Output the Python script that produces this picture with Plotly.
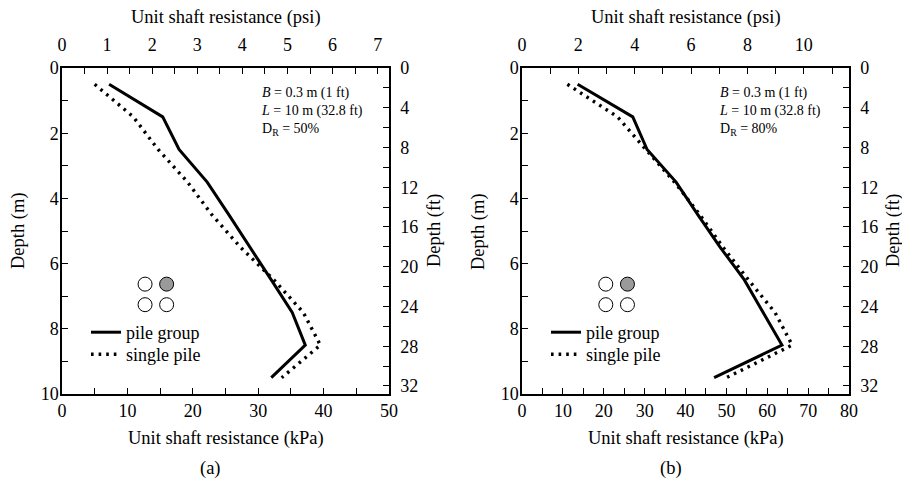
import plotly.graph_objects as go

# ---------------- data ----------------
depth_m = [0.5, 1.5, 2.5, 3.5, 4.5, 5.5, 6.5, 7.5, 8.5, 9.5]
a_group = [7.2, 15.4, 17.9, 22.2, 25.5, 28.8, 32.0, 35.2, 37.2, 32.0]
a_single = [5.0, 10.9, 14.7, 19.2, 22.9, 27.3, 32.4, 36.9, 39.5, 33.6]
b_group = [13.6, 27.1, 30.6, 37.7, 43.0, 48.5, 54.4, 59.0, 63.6, 47.0]
b_single = [11.1, 23.4, 30.3, 37.3, 43.5, 49.2, 55.4, 61.9, 66.1, 50.0]

series_names = ["pile group", "single pile"]
panel_labels = ["(a)", "(b)"]
panel_notes = [
    ["<i>B</i> = 0.3 m (1 ft)", "<i>L</i> = 10 m (32.8 ft)", "D<sub>R</sub> = 50%"],
    ["<i>B</i> = 0.3 m (1 ft)", "<i>L</i> = 10 m (32.8 ft)", "D<sub>R</sub> = 80%"],
]
# pile-group icon (2x2), in data units of each panel
icon_a_x = [12.7, 16.0, 12.7, 16.0]
icon_b_x = [20.5, 25.8, 20.5, 25.8]
icon_y = [6.63, 6.63, 7.26, 7.26]
icon_fill = ["white", "#9a9a9a", "white", "white"]

KPA_PER_PSI = 6.894757
M_PER_FT = 0.3048
xmax = [50, 80]
ymax_m = 10

FONT = "Liberation Serif, Times New Roman, serif"
W, H = 902, 479
TICK_SIZE = 18
TITLE_SIZE = 18.5
NOTE_SIZE = 14

# plot-area pixel geometry
px_left = [(62, 389), (522, 849)]
py_top, py_bot = 68, 394

def fx(p):
    return p / W

def fy(p):
    return 1 - p / H

fig = go.Figure()

def add_panel(xs_group, xs_single, icon_x, xa, ya, legs):
    fig.add_trace(go.Scatter(
        x=xs_group, y=depth_m, mode="lines", name=series_names[0],
        line=dict(color="black", width=3), xaxis=xa, yaxis=ya, legend=legs[0]))
    fig.add_trace(go.Scatter(
        x=xs_single, y=depth_m, mode="lines", name=series_names[1],
        line=dict(color="black", width=3.4, dash="2.6px,5px"), xaxis=xa, yaxis=ya,
        legend=legs[1]))
    fig.add_trace(go.Scatter(
        x=icon_x, y=icon_y, mode="markers", showlegend=False, hoverinfo="skip",
        marker=dict(size=14, color=icon_fill, line=dict(color="black", width=1)),
        xaxis=xa, yaxis=ya))

add_panel(a_group, a_single, icon_a_x, "x", "y", ("legend", "legend3"))
add_panel(b_group, b_single, icon_b_x, "x2", "y2", ("legend2", "legend4"))

minor_common = dict(ticks="inside", ticklen=6, tickwidth=1.2, tickcolor="black")
axis_common = dict(
    showline=True, linecolor="black", linewidth=1.5, ticks="inside", ticklen=6,
    tickwidth=1.2, tickcolor="black", showgrid=False, zeroline=False,
    tickfont=dict(family=FONT, size=TICK_SIZE, color="black"), automargin=False,
)

layout = dict(
    width=W, height=H, margin=dict(l=0, r=0, t=0, b=0),
    paper_bgcolor="white", plot_bgcolor="white",
    font=dict(family=FONT, size=TICK_SIZE, color="black"),
)

for i in range(2):
    sfx = "" if i == 0 else "2"
    xd = [fx(px_left[i][0]), fx(px_left[i][1])]
    yd = [fy(py_bot), fy(py_top)]
    xm = xmax[i]
    layout["xaxis" + sfx] = dict(axis_common, domain=xd, range=[0, xm],
                                 anchor="y" + sfx, dtick=10,
                                 minor=dict(minor_common, dtick=5))
    layout["yaxis" + sfx] = dict(axis_common, domain=yd, range=[ymax_m, 0],
                                 anchor="x" + sfx, dtick=2, ticklabelstandoff=-2,
                                 minor=dict(minor_common, dtick=1))
    psi_max = xm / KPA_PER_PSI
    top_dtick, top_minor = (1, 0.5) if i == 0 else (2, 1)
    layout["xaxis" + str(3 + i)] = dict(
        axis_common, overlaying="x" + sfx, side="top", anchor="y" + sfx,
        range=[0, psi_max], dtick=top_dtick, ticklabelstandoff=8,
        minor=dict(minor_common, dtick=top_minor))
    ft_max = ymax_m / M_PER_FT
    layout["yaxis" + str(3 + i)] = dict(
        axis_common, overlaying="y" + sfx, side="right", anchor="x" + sfx,
        range=[ft_max, 0], dtick=4, ticklabelstandoff=6,
        minor=dict(minor_common, dtick=2))

# legends: one entry each so rows can be placed exactly
for key, lx, ty in [("legend", 86, 314), ("legend3", 86, 336),
                    ("legend2", 546, 314), ("legend4", 546, 336)]:
    layout[key] = dict(x=fx(lx), y=fy(ty), xanchor="left", yanchor="top",
                       bgcolor="rgba(0,0,0,0)",
                       font=dict(family=FONT, size=TICK_SIZE),
                       itemwidth=30, tracegroupgap=0)

fig.update_layout(**layout)

# empty traces so the overlay axes render
for xa, ya in [("x3", "y"), ("x", "y3"), ("x4", "y2"), ("x2", "y4")]:
    fig.add_trace(go.Scatter(x=[None], y=[None], xaxis=xa, yaxis=ya,
                             showlegend=False, hoverinfo="skip"))

def label(text, x, y, size=TITLE_SIZE, angle=0, xanchor="center", align="center"):
    return dict(text=text, x=fx(x), y=fy(y), xref="paper", yref="paper",
                xanchor=xanchor, yanchor="middle", showarrow=False, align=align,
                textangle=angle, borderpad=0,
                font=dict(family=FONT, size=size, color="black"))

ann = []
for i in range(2):
    cx = (px_left[i][0] + px_left[i][1]) / 2
    ann.append(label("Unit shaft resistance (psi)", cx, 17))
    ann.append(label("Unit shaft resistance (kPa)", cx, 438))
    ann.append(label(panel_labels[i], cx - 15, 468))
    ann.append(label("Depth (m)", [19, 479][i], 231, angle=-90))
    ann.append(label("Depth (ft)", [435, 894][i], 231, angle=-90))
    nx = [260, 718][i]
    ann.append(label("<br>".join(panel_notes[i]), nx, 111, size=NOTE_SIZE,
                     xanchor="left", align="left"))

fig.update_layout(annotations=ann)
fig.write_html("out.html", post_script="document.body.style.margin='0';",
               config={"displayModeBar": False})
